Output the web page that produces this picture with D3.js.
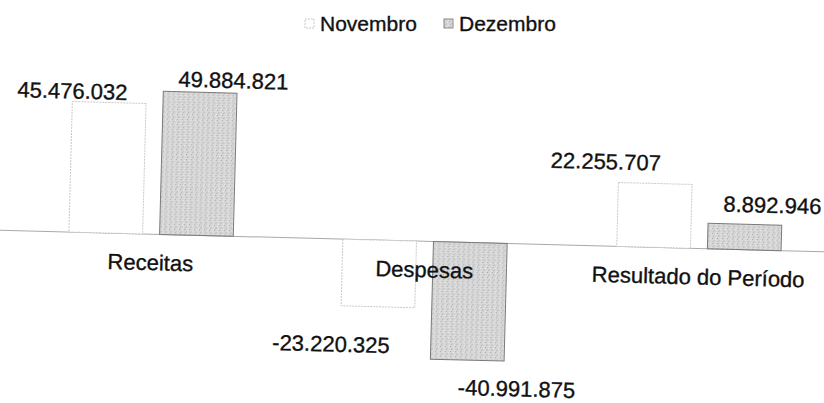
<!DOCTYPE html>
<html>
<head>
<meta charset="utf-8">
<script src="https://cdn.jsdelivr.net/npm/d3@7"></script>
<style>
  html, body { margin: 0; padding: 0; background: #fff; }
  svg { display: block; font-family: "Liberation Sans", Arial, sans-serif; }
  text { stroke: #111; stroke-width: 0.35px; }
</style>
</head>
<body>
<div id="chart"></div>
<script>
// dados do gráfico
const categorias = ['Receitas', 'Despesas', 'Resultado do Período'];
const series = ['Novembro', 'Dezembro'];
const novembro = [45476032, -23220325, 22255707];
const dezembro = [49884821, -40991875, 8892946];

// ajuste dos rótulos (o Excel não os centra) [dx, dy] por categoria / série
const ajusteRotulos = [
  [[-37, -3], [33, -5]],
  [[-46, 46], [50, 35]],
  [[-50, -13], [27, -12]]
];

const W = 824, H = 403;
const fmt = v => d3.format(',')(v).replace(/,/g, '.').replace('\u2212', '-');

const svg = d3.select('#chart').append('svg')
  .attr('width', W).attr('height', H);

// textura pontilhada da série Dezembro
const defs = svg.append('defs');
const pat = defs.append('pattern')
  .attr('id', 'pontilhado')
  .attr('width', 5).attr('height', 5)
  .attr('patternUnits', 'userSpaceOnUse');
pat.append('rect').attr('width', 5).attr('height', 5).attr('fill', '#d6d6d6');
[[0, 0, '#a8a8a8'], [3, 1, '#efefef'], [1, 3, '#b4b4b4'], [4, 4, '#eaeaea'], [2, 2, '#c2c2c2']]
  .forEach(([px, py, c]) => pat.append('rect')
    .attr('x', px).attr('y', py).attr('width', 1).attr('height', 1).attr('fill', c));

// a imagem digitalizada está ligeiramente rodada
const g = svg.append('g').attr('transform', 'rotate(1.5, 412, 241)');

const x0 = d3.scaleBand().domain(categorias).range([14, 836])
  .paddingInner(0.4).paddingOuter(0.2);
const x1 = d3.scaleBand().domain(series).range([0, x0.bandwidth()])
  .paddingInner(0.187).paddingOuter(0);
const y = d3.scaleLinear().domain([-50e6, 60e6]).range([241 + 143.5, 241 - 172.2]);

const dados = categorias.map((c, i) => ({
  cat: c, i,
  vals: [
    { serie: 'Novembro', v: novembro[i], k: 0 },
    { serie: 'Dezembro', v: dezembro[i], k: 1 }
  ]
}));

// linha do eixo
g.append('line')
  .attr('x1', -30).attr('x2', W + 30)
  .attr('y1', y(0)).attr('y2', y(0))
  .attr('stroke', '#a9a9a9').attr('stroke-width', 1);

const grupos = g.selectAll('g.cat').data(dados).enter().append('g')
  .attr('class', 'cat')
  .attr('transform', d => `translate(${x0(d.cat)},0)`);

grupos.selectAll('rect').data(d => d.vals).enter().append('rect')
  .attr('x', d => x1(d.serie))
  .attr('width', x1.bandwidth())
  .attr('y', d => y(Math.max(0, d.v)))
  .attr('height', d => Math.abs(y(d.v) - y(0)))
  .attr('fill', d => d.k === 0 ? '#ffffff' : 'url(#pontilhado)')
  .attr('stroke', d => d.k === 0 ? '#c9c9c9' : '#7a7a7a')
  .attr('stroke-dasharray', d => d.k === 0 ? '2,1' : null)
  .attr('stroke-width', 1);

// rótulos das categorias
grupos.append('text')
  .attr('x', x0.bandwidth() / 2)
  .attr('y', y(0) + 36)
  .attr('text-anchor', 'middle')
  .attr('font-size', 22)
  .attr('fill', '#111')
  .text(d => d.cat);

// rótulos de valores
grupos.each(function (d) {
  d3.select(this).selectAll('text.val').data(d.vals).enter().append('text')
    .attr('class', 'val')
    .attr('x', v => x1(v.serie) + x1.bandwidth() / 2 + ajusteRotulos[d.i][v.k][0])
    .attr('y', v => y(v.v) + ajusteRotulos[d.i][v.k][1])
    .attr('text-anchor', 'middle')
    .attr('font-size', 22)
    .attr('fill', '#111')
    .text(v => fmt(v.v));
});

// legenda
const leg = svg.append('g').attr('transform', 'translate(305,31)');
const legX = [0, 139];
series.forEach((s, k) => {
  const it = leg.append('g').attr('transform', `translate(${legX[k]},0)`);
  it.append('rect')
    .attr('x', 0).attr('y', -12).attr('width', 9).attr('height', 9)
    .attr('fill', k === 0 ? '#fff' : 'url(#pontilhado)')
    .attr('stroke', k === 0 ? '#c9c9c9' : '#8a8a8a')
    .attr('stroke-dasharray', k === 0 ? '2,1' : null);
  it.append('text')
    .attr('x', 15).attr('y', 0)
    .attr('font-size', 21)
    .attr('fill', '#111')
    .text(s);
});
</script>
</body>
</html>
